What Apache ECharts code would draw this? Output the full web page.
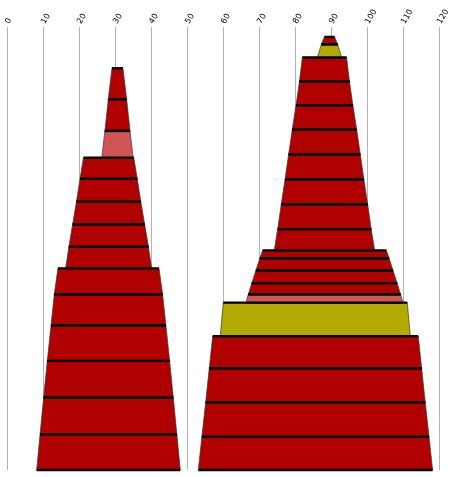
<!DOCTYPE html>
<html>
<head>
<meta charset="utf-8">
<script src="https://cdn.jsdelivr.net/npm/echarts@6/dist/echarts.min.js"></script>
<style>
html,body{margin:0;padding:0;background:#fff;}
#chart{width:452px;height:477px;}
</style>
</head>
<body>
<div id="chart"></div>
<script>
// x-axis tick labels
const xTicks = [0, 10, 20, 30, 40, 50, 60, 70, 80, 90, 100, 110, 120];

// Layers, bottom to top (left column then right column)
const layerBottom = [0, 9.9, 20.2, 30.3, 40.2, 48.8, 56.0, 62.0, 68.25, 74.5, 80.9, 86.75, 94.2, 103.0,
                     0, 9.25, 18.8, 28.25, 37.2, 46.5, 48.8, 51.9, 55.4, 58.8, 61.0, 66.9, 73.8, 80.75, 87.7, 94.6, 101.3, 107.9, 114.6, 118.25];
const layerTop    = [9.9, 20.2, 30.3, 40.2, 48.8, 56.0, 62.0, 68.25, 74.5, 80.9, 86.75, 94.2, 103.0, 111.6,
                     9.25, 18.8, 28.25, 37.2, 46.5, 48.8, 51.9, 55.4, 58.8, 61.0, 66.9, 73.8, 80.75, 87.7, 94.6, 101.3, 107.9, 114.6, 118.25, 120.3];
const layerCenter = [28.1, 28.1, 28.1, 28.1, 28.1, 28.1, 28.15, 28.15, 28.15, 28.15, 28.15, 30.6, 30.6, 30.6,
                     85.6, 85.6, 85.6, 85.6, 85.55, 88.1, 88.1, 88.1, 88.1, 88.1, 88.1, 88.1, 88.1, 88.1, 88.1, 88.1, 88.1, 88.1, 89.5, 89.5];
const layerWidthBottom = [39.9, 38.0, 36.0, 34.0, 31.9, 30.1, 23.9, 22.1, 20.0, 17.9, 15.9, 8.7, 7.0, 5.1,
                          65.1, 63.1, 61.0, 59.0, 52.8, 43.6, 42.3, 40.4, 38.1, 35.9, 27.9, 26.0, 24.0, 21.9, 19.9, 17.9, 15.8, 13.9, 6.8, 4.5];
const layerWidthTop    = [38.0, 36.0, 34.0, 31.9, 30.1, 28.1, 22.1, 20.0, 17.9, 15.9, 14.0, 7.0, 5.1, 3.06,
                          63.1, 61.0, 59.0, 57.1, 51.1, 42.3, 40.4, 38.1, 35.9, 34.4, 26.0, 24.0, 21.9, 19.9, 17.9, 15.8, 13.9, 12.3, 4.5, 2.86];
// layer kind: 0 = dark red, 1 = light red, 2 = olive
const layerKind = [0, 0, 0, 0, 0, 0, 0, 0, 0, 0, 0, 1, 0, 0,
                   0, 0, 0, 0, 2, 1, 0, 0, 0, 0, 0, 0, 0, 0, 0, 0, 0, 0, 2, 0];

const kindColors = ['#b00000', '#d25555', '#b3aa00'];

const data = layerBottom.map((b, i) => [b, layerTop[i], layerCenter[i], layerWidthBottom[i], layerWidthTop[i]]);

const chart = echarts.init(document.getElementById('chart'), null, {renderer: 'canvas'});
chart.setOption({
  animation: false,
  backgroundColor: '#ffffff',
  grid: {left: 7.3, right: 12.7, top: 27.2, bottom: 7},
  xAxis: {
    type: 'value', position: 'top', min: 0, max: 120, interval: 10,
    axisLine: {show: false}, axisTick: {show: false},
    splitLine: {show: true, lineStyle: {color: '#b4b4b4', width: 1}},
    axisLabel: {
      rotate: 60, margin: 4, color: '#000', fontSize: 8, fontFamily: 'DejaVu Sans',
      formatter: v => xTicks.includes(v) ? String(v) : ''
    }
  },
  yAxis: {
    type: 'value', min: 0, max: 123, show: false,
    splitLine: {show: false}
  },
  series: [{
    type: 'custom',
    data: data,
    encode: {x: 2, y: [0, 1]},
    renderItem: function (params, api) {
      const y0 = api.value(0), y1 = api.value(1), c = api.value(2), w0 = api.value(3), w1 = api.value(4);
      const bl = api.coord([c - w0 / 2, y0]);
      const br = api.coord([c + w0 / 2, y0]);
      const tr = api.coord([c + w1 / 2, y1]);
      const tl = api.coord([c - w1 / 2, y1]);
      const col = kindColors[layerKind[params.dataIndex]];
      return {
        type: 'group',
        children: [
          {type: 'polygon', shape: {points: [bl, br, tr, tl]},
           style: {fill: col, stroke: '#3a3a3a', lineWidth: 0.7}},
          {type: 'line', shape: {x1: bl[0], y1: bl[1], x2: br[0], y2: br[1]},
           style: {stroke: '#000', lineWidth: 2.4}},
          {type: 'line', shape: {x1: tl[0], y1: tl[1], x2: tr[0], y2: tr[1]},
           style: {stroke: '#000', lineWidth: 2.4}}
        ]
      };
    }
  }]
});
</script>
</body>
</html>
